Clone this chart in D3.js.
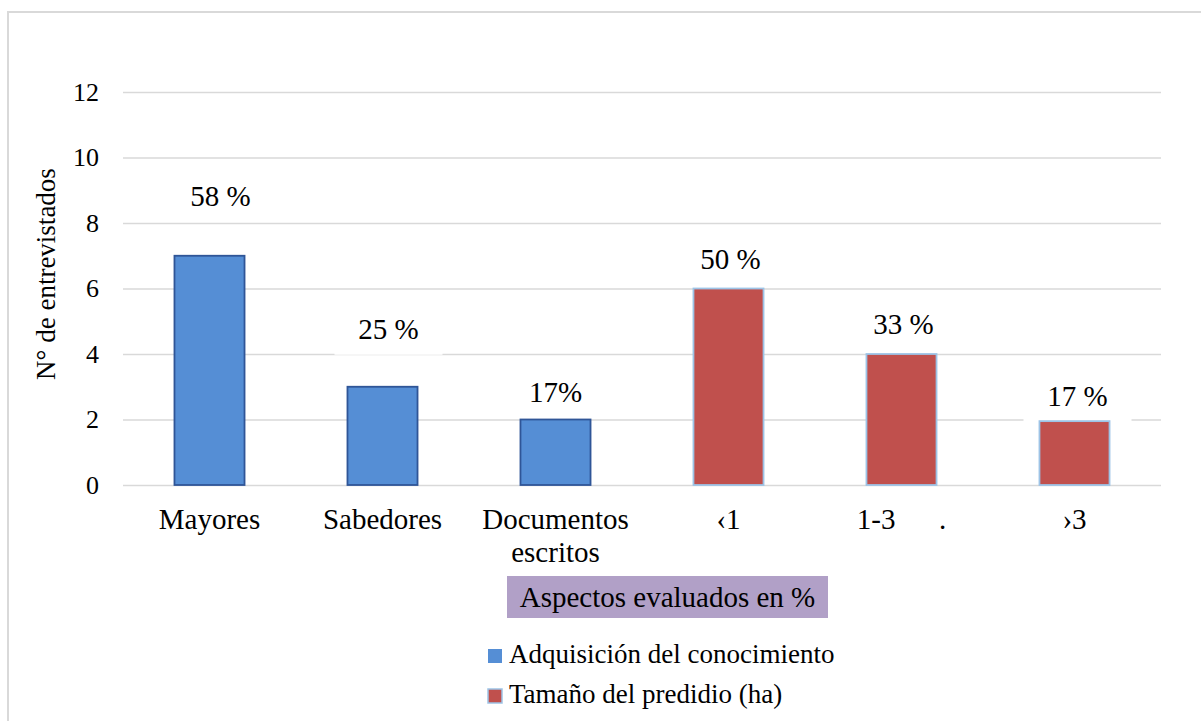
<!DOCTYPE html>
<html>
<head>
<meta charset="utf-8">
<script src="https://cdn.jsdelivr.net/npm/d3@7"></script>
</head>
<body style="margin:0">
<svg id="chart" width="1201" height="721" style="display:block"></svg>
<script>
// Interview results: how knowledge was acquired, and farm size (ha)
const categories = ["Mayores", "Sabedores", "Documentos escritos", "\u20391", "1-3      .", "\u203A3"];
const categoryLines = [["Mayores"], ["Sabedores"], ["Documentos", "escritos"], ["\u20391"], ["1-3      ."], ["\u203A3"]];
const series = ["Adquisición del conocimiento", "Adquisición del conocimiento", "Adquisición del conocimiento",
                "Tamaño del predidio (ha)", "Tamaño del predidio (ha)", "Tamaño del predidio (ha)"];
const counts = [7, 3, 2, 6, 4, 1.95];
const percentLabels = ["58 %", "25 %", "17%", "50 %", "33 %", "17 %"];
const yTicks = [0, 2, 4, 6, 8, 10, 12];
const legendNames = ["Adquisición del conocimiento", "Tamaño del predidio (ha)"];

// layout
const plot = { left: 123, right: 1161, top: 92, bottom: 485 };
const labelLift = [50, 48, 18, 20, 20, 15];
const labelShift = [11, 6, 0, 2, 2, 3];
const textFont = "'Liberation Serif', serif";

const fills = { "Adquisición del conocimiento": "#558ED5", "Tamaño del predidio (ha)": "#C0504D" };
const strokes = { "Adquisición del conocimiento": "#2F5597", "Tamaño del predidio (ha)": "#9DC3E6" };

const svg = d3.select("#chart");

// outer chart frame
svg.append("rect")
  .attr("x", 8).attr("y", 12).attr("width", 1400).attr("height", 900)
  .attr("fill", "#fff").attr("stroke", "#d9d9d9").attr("stroke-width", 2);

const x = d3.scaleBand()
  .domain(categories)
  .range([plot.left, plot.right])
  .paddingInner(0.595)
  .paddingOuter(0.2975);

const y = d3.scaleLinear().domain([0, 12]).range([plot.bottom, plot.top]);

// gridlines and y tick labels
const yAxis = d3.axisLeft(y).tickValues(yTicks).tickSize(-(plot.right - plot.left)).tickPadding(24);
const gy = svg.append("g").attr("transform", `translate(${plot.left},0)`).call(yAxis);
gy.attr("font-family", null).attr("font-size", null);
gy.select(".domain").remove();
gy.selectAll(".tick line").attr("stroke", "#d9d9d9").attr("stroke-width", 1.5);
gy.selectAll(".tick text")
  .style("font-family", textFont)
  .attr("font-size", 26).attr("fill", "#000");

// white backing behind each percentage label
const idx = d3.range(categories.length);
const cx = i => x(categories[i]) + x.bandwidth() / 2;
svg.append("g").selectAll("rect").data(idx).join("rect")
  .attr("x", i => cx(i) + labelShift[i] - 54)
  .attr("y", i => y(counts[i]) - labelLift[i] - 30)
  .attr("width", 108)
  .attr("height", 46)
  .attr("fill", "#fff");

// bars
svg.append("g").selectAll("rect").data(idx).join("rect")
  .attr("x", i => x(categories[i]))
  .attr("y", i => y(counts[i]))
  .attr("width", x.bandwidth())
  .attr("height", i => y(0) - y(counts[i]))
  .attr("fill", i => fills[series[i]])
  .attr("stroke", i => strokes[series[i]])
  .attr("stroke-width", 1.8);

// percentage labels
svg.append("g").selectAll("text").data(idx).join("text")
  .attr("x", i => cx(i) + labelShift[i])
  .attr("y", i => y(counts[i]) - labelLift[i])
  .attr("text-anchor", "middle")
  .style("font-family", textFont)
  .attr("font-size", 29)
  .attr("fill", "#000")
  .text(i => percentLabels[i]);

// category labels
const cat = svg.append("g").selectAll("text").data(idx).join("text")
  .attr("text-anchor", "middle")
  .style("font-family", textFont)
  .attr("font-size", 29)
  .attr("fill", "#000")
  .attr("xml:space", "preserve");
cat.selectAll("tspan").data(i => categoryLines[i].map(t => ({ t, i }))).join("tspan")
  .attr("x", d => cx(d.i))
  .attr("y", (d, k) => 529 + k * 33)
  .text(d => d.t);

// y axis title
svg.append("text")
  .attr("transform", "translate(55,274) rotate(-90)")
  .attr("text-anchor", "middle")
  .style("font-family", textFont)
  .attr("font-size", 27)
  .attr("fill", "#000")
  .text("N° de entrevistados");

// x axis title box
svg.append("rect")
  .attr("x", 507).attr("y", 576).attr("width", 321).attr("height", 42)
  .attr("fill", "#B1A0C7");
svg.append("text")
  .attr("x", 667.5).attr("y", 607)
  .attr("text-anchor", "middle")
  .style("font-family", textFont)
  .attr("font-size", 29)
  .attr("fill", "#000")
  .text("Aspectos evaluados en %");

// legend
const leg = svg.append("g").selectAll("g").data(legendNames).join("g")
  .attr("transform", (d, k) => `translate(488,${649 + k * 40})`);
leg.append("rect")
  .attr("width", 14).attr("height", 14)
  .attr("fill", d => fills[d])
  .attr("stroke", d => d === legendNames[1] ? strokes[d] : "none")
  .attr("stroke-width", 1.5);
leg.append("text")
  .attr("x", 21).attr("y", 14)
  .style("font-family", textFont)
  .attr("font-size", 27)
  .attr("fill", "#000")
  .text(d => d);
</script>
</body>
</html>
